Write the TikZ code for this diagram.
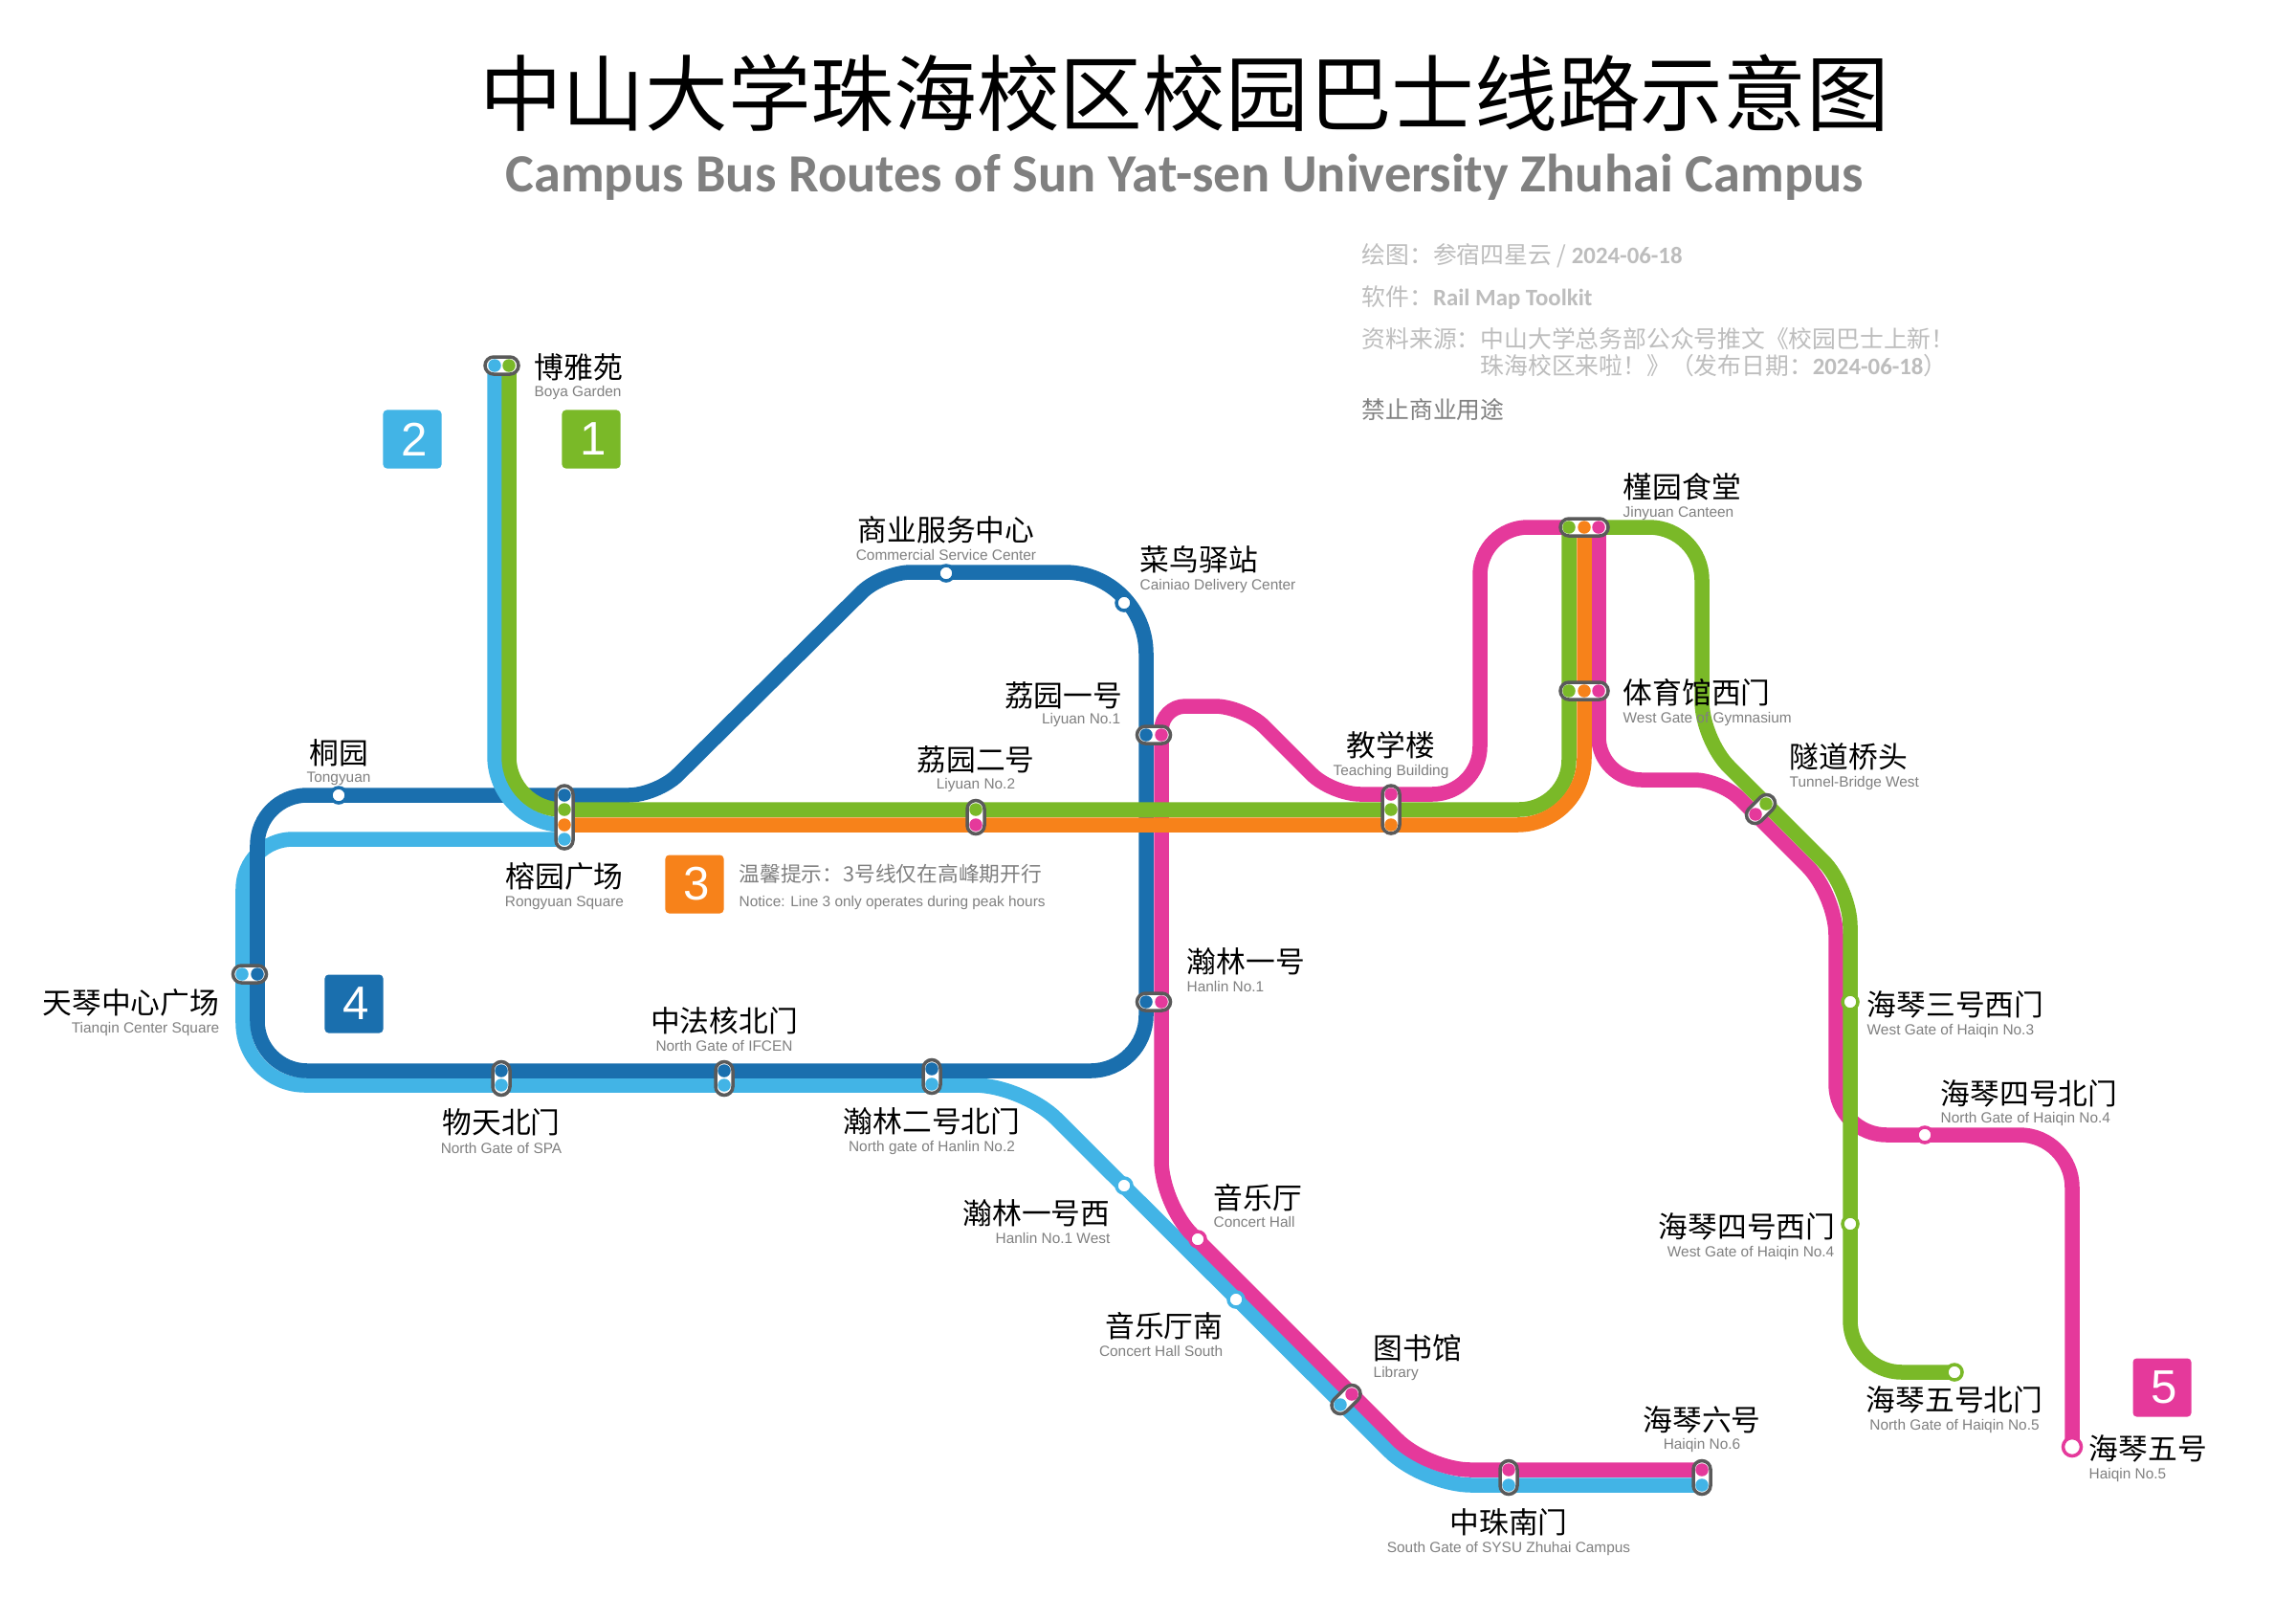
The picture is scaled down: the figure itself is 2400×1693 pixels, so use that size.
\documentclass[tikz,border=0pt]{standalone}
\usepackage{fontspec}
\setmainfont{Liberation Sans}
\newfontfamily\cjk{Noto Sans CJK SC}
\newfontfamily\titlelatin{Carlito}

\definecolor{lineone}{HTML}{7AB928}
\definecolor{linetwo}{HTML}{42B4E6}
\definecolor{linethree}{HTML}{F7821A}
\definecolor{linefour}{HTML}{1A6FAE}
\definecolor{linefive}{HTML}{E5399B}
\definecolor{hubgray}{HTML}{5A5A5A}
\definecolor{namegray}{HTML}{808080}
\definecolor{creditgray}{HTML}{BDBDBD}

\tikzset{
	route/.style = {line width = 0.155cm, draw = #1},
	hub/.style = {draw = hubgray, fill = white, line width = 0.035cm, rounded corners = 0.09cm, minimum height = 0.18cm, minimum width = #1, inner sep = 0},
	hub/.default = 0.35cm,
	stopdot/.style = {circle, fill = #1, inner sep = 0, minimum size = 0.135cm},
	halt/.style = {circle, fill = white, draw = #1, line width = 0.035cm, inner sep = 0, minimum size = 0.16cm},
	zh/.style = {font = \cjk\fontsize{8.75}{8.75}\selectfont, inner sep = 0, text height = 0.29cm, text depth = 0.04cm},
	en/.style = {font = \fontsize{4.38}{4.38}\selectfont, text = namegray, inner sep = 0, text height = 0.16cm, text depth = 0.03cm},
	credit/.style = {font = \cjk\fontsize{7.05}{7.05}\selectfont, text = creditgray, inner sep = 0, anchor = west},
	linesq/.style = {fill = #1, text = white, font = \fontsize{14}{14}\selectfont, rounded corners = 0.04cm, minimum size = 0.61cm, inner sep = 0, execute at begin node = \hspace{0.04cm}}
}

\begin{document}
\begin{tikzpicture}[x = 0.01cm, y = -0.01cm]

\path [use as bounding box, fill = white] (0, 0) rectangle (2400, 1693);

% Stops on the lines

\coordinate (boyaA) at (517, 382);
\coordinate (boyaB) at (532, 382);
\coordinate (rongD) at (590, 831);
\coordinate (rongG) at (590, 846);
\coordinate (rongO) at (590, 862);
\coordinate (rongL) at (590, 877);
\coordinate (haiSixL) at (1779, 1552);
\coordinate (haiSixP) at (1779, 1536);
\coordinate (jinG) at (1640, 551);
\coordinate (jinO) at (1656, 551);
\coordinate (jinP) at (1671, 551);
\coordinate (haiFiveN) at (2043, 1434);
\coordinate (haiFive) at (2166, 1512);

% Line 2, west branch

\draw [route = linetwo] (rongL) [rounded corners = 0.52cm] -- (254, 877) [rounded corners = 0.65cm] -- (254, 1134) [rounded corners = 0.5cm] -- (1069, 1134) -- (1488, 1552) -- (haiSixL);

% Line 4

\draw [route = linefour] (rongD) [rounded corners = 0.3cm] -- (687, 831) -- (922, 598) [rounded corners = 0.85cm] -- (1198, 598) [rounded corners = 0.58cm] -- (1198, 1119) [rounded corners = 0.52cm] -- (269, 1119) -- (269, 831) -- (rongD);

% Line 2, north branch

\draw [route = linetwo] (boyaA) [rounded corners = 0.72cm] -- (517, 862) -- (rongO);

% Line 5

\draw [route = linefive] (haiSixP) [rounded corners = 0.45cm] -- (1492, 1536) -- (1214, 1258) [rounded corners = 0.25cm] -- (1214, 738) [rounded corners = 0.3cm] -- (1300, 738) -- (1392, 830) [rounded corners = 0.5cm] -- (1547, 830) -- (1547, 551) [sharp corners] -- (jinP) [rounded corners = 0.45cm] -- (1671, 815) [rounded corners = 0.28cm] -- (1799, 815) [rounded corners = 0.42cm] -- (1919, 935) [rounded corners = 0.53cm] -- (1919, 1186) [rounded corners = 0.55cm] -- (2166, 1186) -- (haiFive);

% Line 1

\draw [route = lineone] (boyaB) [rounded corners = 0.55cm] -- (532, 846) [rounded corners = 0.52cm] -- (1640, 846) [sharp corners] -- (jinG) [rounded corners = 0.55cm] -- (1779, 551) [rounded corners = 0.4cm] -- (1779, 773) -- (1934, 928) [rounded corners = 0.54cm] -- (1934, 1434) -- (haiFiveN);

% Line 3

\draw [route = linethree] (rongO) [rounded corners = 0.7cm] -- (1656, 862) -- (jinO);

% Hubs

\node [hub] (boyaHub) at (524.5, 382) {};
\node [hub = 0.66cm, rotate = 90] (rongHub) at (590, 854) {};
\node [hub] (tianHub) at (261, 1018) {};
\node [hub, rotate = 90] (wuHub) at (524, 1127) {};
\node [hub, rotate = 90] (zhongHub) at (757, 1127) {};
\node [hub, rotate = 90] (hanTwoHub) at (974, 1125) {};
\node [hub] (liOneHub) at (1206, 768) {};
\node [hub] (hanOneHub) at (1206, 1047) {};
\node [hub, rotate = 90] (liTwoHub) at (1020, 854) {};
\node [hub = 0.5cm, rotate = 90] (teachHub) at (1454, 846) {};
\node [hub = 0.5cm] (jinHub) at (1656, 551) {};
\node [hub = 0.5cm] (gymHub) at (1656, 722) {};
\node [hub, rotate = 45] (tunnelHub) at (1840.5, 845.5) {};
\node [hub, rotate = 45] (libHub) at (1407, 1462.5) {};
\node [hub, rotate = 90] (nanHub) at (1577, 1544) {};
\node [hub, rotate = 90] (haiSixHub) at (1779, 1544) {};

% Dots in the hubs

\node [stopdot = linetwo] (boyaA2) at (517, 382) {};
\node [stopdot = lineone] (boyaB1) at (532, 382) {};
\node [stopdot = linefour] (rong4) at (590, 831) {};
\node [stopdot = lineone] (rong1) at (590, 846) {};
\node [stopdot = linethree] (rong3) at (590, 862) {};
\node [stopdot = linetwo] (rong2) at (590, 877) {};
\node [stopdot = linetwo] (tian2) at (253, 1018) {};
\node [stopdot = linefour] (tian4) at (269, 1018) {};
\node [stopdot = linefour] (wu4) at (524, 1119) {};
\node [stopdot = linetwo] (wu2) at (524, 1134) {};
\node [stopdot = linefour] (zhong4) at (757, 1119) {};
\node [stopdot = linetwo] (zhong2) at (757, 1134) {};
\node [stopdot = linefour] (hanTwo4) at (974, 1117) {};
\node [stopdot = linetwo] (hanTwo2) at (974, 1133) {};
\node [stopdot = linefour] (liOne4) at (1198, 768) {};
\node [stopdot = linefive] (liOne5) at (1214, 768) {};
\node [stopdot = linefour] (hanOne4) at (1198, 1047) {};
\node [stopdot = linefive] (hanOne5) at (1214, 1047) {};
\node [stopdot = lineone] (liTwo1) at (1020, 846) {};
\node [stopdot = linefive] (liTwo5) at (1020, 862) {};
\node [stopdot = linefive] (teach5) at (1454, 830) {};
\node [stopdot = lineone] (teach1) at (1454, 846) {};
\node [stopdot = linethree] (teach3) at (1454, 862) {};
\node [stopdot = lineone] (jin1) at (1640, 551) {};
\node [stopdot = linethree] (jin3) at (1656, 551) {};
\node [stopdot = linefive] (jin5) at (1671, 551) {};
\node [stopdot = lineone] (gym1) at (1640, 722) {};
\node [stopdot = linethree] (gym3) at (1656, 722) {};
\node [stopdot = linefive] (gym5) at (1671, 722) {};
\node [stopdot = lineone] (tunnel1) at (1846, 840) {};
\node [stopdot = linefive] (tunnel5) at (1835, 851) {};
\node [stopdot = linefive] (lib5) at (1413, 1457) {};
\node [stopdot = linetwo] (lib2) at (1401, 1468) {};
\node [stopdot = linefive] (nan5) at (1577, 1536) {};
\node [stopdot = linetwo] (nan2) at (1577, 1552) {};
\node [stopdot = linefive] (haiSix5) at (1779, 1536) {};
\node [stopdot = linetwo] (haiSix2) at (1779, 1552) {};

% Single stops

\node [halt = linefour] (tongStop) at (354, 831) {};
\node [halt = linefour] (commStop) at (989, 599) {};
\node [halt = linefour] (caiStop) at (1175, 630) {};
\node [halt = linetwo] (hanWestStop) at (1175, 1239) {};
\node [halt = linetwo] (concSouthStop) at (1292, 1358) {};
\node [halt = linefive] (concStop) at (1252, 1295) {};
\node [halt = lineone] (haiThreeStop) at (1934, 1047) {};
\node [halt = lineone] (haiFourWStop) at (1934, 1279) {};
\node [halt = linefive] (haiFourNStop) at (2012, 1186) {};
\node [halt = lineone] (haiFiveNStop) at (2043, 1434) {};
\node [halt = linefive, minimum size = 0.19cm] (haiFiveStop) at (2166, 1512) {};

% Line numbers

\node [linesq = linetwo] (sqTwo) at (431, 459) {2};
\node [linesq = lineone] (sqOne) at (618, 459) {1};
\node [linesq = linethree] (sqThree) at (726, 924) {3};
\node [linesq = linefour] (sqFour) at (370, 1049) {4};
\node [linesq = linefive] (sqFive) at (2260, 1450) {5};

% Station names

\node [zh, anchor = west] (boyaZh) at (558, 383) {博雅苑};
\node [en, anchor = west] (boyaEn) at (558, 408) {Boya Garden};
\node [zh] (tongZh) at (354, 786) {桐园};
\node [en] (tongEn) at (354, 811) {Tongyuan};
\node [zh] (rongZh) at (590, 915) {榕园广场};
\node [en] (rongEn) at (590, 941) {Rongyuan Square};
\node [zh] (commZh) at (989, 553) {商业服务中心};
\node [en] (commEn) at (989, 579) {Commercial Service Center};
\node [zh, anchor = west] (caiZh) at (1191, 584) {菜鸟驿站};
\node [en, anchor = west] (caiEn) at (1191, 610) {Cainiao Delivery Center};
\node [zh, anchor = east] (liOneZh) at (1174, 726) {荔园一号};
\node [en, anchor = east] (liOneEn) at (1172, 750) {Liyuan No.1};
\node [zh] (liTwoZh) at (1020, 793) {荔园二号};
\node [en] (liTwoEn) at (1020, 818) {Liyuan No.2};
\node [zh] (teachZh) at (1454, 778) {教学楼};
\node [en] (teachEn) at (1454, 804) {Teaching Building};
\node [zh, anchor = west] (hanOneZh) at (1240, 1004) {瀚林一号};
\node [en, anchor = west] (hanOneEn) at (1240, 1030) {Hanlin No.1};
\node [zh, anchor = west] (jinZh) at (1696, 508) {槿园食堂};
\node [en, anchor = west] (jinEn) at (1696, 534) {Jinyuan Canteen};
\node [zh, anchor = west] (gymZh) at (1696, 723) {体育馆西门};
\node [en, anchor = west] (gymEn) at (1696, 749) {West Gate of Gymnasium};
\node [zh, anchor = west] (tunnelZh) at (1870, 790) {隧道桥头};
\node [en, anchor = west] (tunnelEn) at (1870, 816) {Tunnel-Bridge West};
\node [zh, anchor = west] (haiThreeZh) at (1951, 1049) {海琴三号西门};
\node [en, anchor = west] (haiThreeEn) at (1951, 1075) {West Gate of Haiqin No.3};
\node [zh, anchor = west] (haiFourNZh) at (2028, 1142) {海琴四号北门};
\node [en, anchor = west] (haiFourNEn) at (2028, 1167) {North Gate of Haiqin No.4};
\node [zh, anchor = east] (haiFourWZh) at (1919, 1281) {海琴四号西门};
\node [en, anchor = east] (haiFourWEn) at (1918, 1307) {West Gate of Haiqin No.4};
\node [zh] (haiFiveNZh) at (2043, 1462) {海琴五号北门};
\node [en] (haiFiveNEn) at (2043, 1488) {North Gate of Haiqin No.5};
\node [zh, anchor = west] (haiFiveZh) at (2183, 1513) {海琴五号};
\node [en, anchor = west] (haiFiveEn) at (2183, 1539) {Haiqin No.5};
\node [zh] (haiSixZh) at (1779, 1483) {海琴六号};
\node [en] (haiSixEn) at (1779, 1508) {Haiqin No.6};
\node [zh] (nanZh) at (1577, 1590) {中珠南门};
\node [en] (nanEn) at (1577, 1616) {South Gate of SYSU Zhuhai Campus};
\node [zh, anchor = west] (libZh) at (1435, 1408) {图书馆};
\node [en, anchor = west] (libEn) at (1435, 1433) {Library};
\node [zh, anchor = east] (concSouthZh) at (1279, 1385) {音乐厅南};
\node [en, anchor = east] (concSouthEn) at (1279, 1411) {Concert Hall South};
\node [zh, anchor = east] (hanWestZh) at (1161, 1267) {瀚林一号西};
\node [en, anchor = east] (hanWestEn) at (1161, 1293) {Hanlin No.1 West};
\node [zh, anchor = west] (concZh) at (1268, 1251) {音乐厅};
\node [en, anchor = west] (concEn) at (1268, 1276) {Concert Hall};
\node [zh] (hanTwoZh) at (974, 1171) {瀚林二号北门};
\node [en] (hanTwoEn) at (974, 1197) {North gate of Hanlin No.2};
\node [zh] (zhongZh) at (757, 1066) {中法核北门};
\node [en] (zhongEn) at (757, 1092) {North Gate of IFCEN};
\node [zh] (wuZh) at (524, 1172) {物天北门};
\node [en] (wuEn) at (524, 1199) {North Gate of SPA};
\node [zh, anchor = east] (tianZh) at (230, 1047) {天琴中心广场};
\node [en, anchor = east] (tianEn) at (230, 1073) {Tianqin Center Square};

% Notice

\node [font = \cjk\fontsize{6.18}{6.18}\selectfont, text = namegray, inner sep = 0, anchor = west] (noticeZh) at (772, 913.5) {温馨提示：3号线仅在高峰期开行};
\node [font = \fontsize{4.38}{4.38}\selectfont, text = namegray, inner sep = 0, anchor = west] (noticeEn) at (772, 943.5) {Notice: Line 3 only operates during peak hours};

% Title

\node [font = \cjk\fontsize{24.65}{24.65}\selectfont, inner sep = 0] (titleZh) at (1238, 97) {中山大学珠海校区校园巴士线路示意图};
\node [font = \titlelatin\bfseries\fontsize{16}{16}\selectfont, text = namegray, inner sep = 0] (titleEn) at (1238, 185) {Campus Bus Routes of Sun Yat-sen University Zhuhai Campus};

% Credits

\node [credit] (creditDraw) at (1423, 267) {绘图：参宿四星云 / {\titlelatin\bfseries 2024-06-18}};
\node [credit] (creditSoft) at (1423, 311) {软件：{\titlelatin\bfseries Rail Map Toolkit}};
\node [credit] (creditSrc) at (1423, 354) {资料来源：中山大学总务部公众号推文《校园巴士上新！};
\node [credit] (creditSrcTwo) at (1547, 382) {珠海校区来啦！》（发布日期：{\titlelatin\bfseries 2024-06-18}）};
\node [credit, text = namegray] (creditUse) at (1423, 428) {禁止商业用途};

\end{tikzpicture}
\end{document}
